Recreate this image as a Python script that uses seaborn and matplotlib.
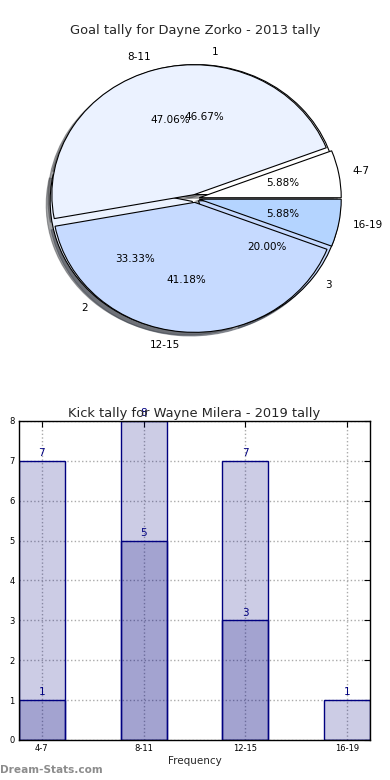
import matplotlib
matplotlib.use("Agg")
import matplotlib.pyplot as plt
import seaborn as sns
import pandas as pd

# pie data
pie_labels_a = ['4-7', '8-11', '12-15', '16-19']
pie_values_a = [1, 8, 7, 1]
pie_labels_b = ['1', '2', '3']
pie_values_b = [7, 5, 3]

# bar data
categories = ['4-7', '8-11', '12-15', '16-19']
kick_light = [7, 8, 7, 1]
kick_dark = [1, 5, 3, 0]

sns.set_theme(style="white")
plt.rcParams['font.family'] = ['DejaVu Sans']

pie_colors = ['#FFFFFF', '#EBF2FF', '#C6DAFF', '#B4D4FF']
navy = '#000080'

fig = plt.figure(figsize=(3.9, 7.8), dpi=100)

# --- Pie chart ---
ax1 = fig.add_axes([0.0449, 0.5449, 0.9103, 0.4013])
wedge_style = dict(edgecolor='black', linewidth=0.8)
ax1.pie(pie_values_b, labels=pie_labels_b, autopct='%1.2f%%', explode=[0.03] * 3,
        shadow=True, colors=pie_colors[:3], startangle=0, wedgeprops=wedge_style,
        textprops=dict(fontsize=7.5, color='black'))
ax1.pie(pie_values_a, labels=pie_labels_a, autopct='%1.2f%%', explode=[0.03] * 4,
        shadow=True, colors=pie_colors, startangle=0, wedgeprops=wedge_style,
        textprops=dict(fontsize=7.5, color='black'))
ax1.set_aspect('auto')
ax1.set_xlim(-1.25, 1.25)
ax1.set_ylim(-1.204, 1.204)
ax1.set_title('Goal tally for Dayne Zorko - 2013 tally', fontsize=9.4, pad=6)

# --- Bar chart ---
ax2 = fig.add_axes([0.0487, 0.0513, 0.9, 0.409])
df = pd.DataFrame({'Range': categories, 'Light': kick_light, 'Dark': kick_dark})
sns.barplot(data=df, x='Range', y='Light', width=0.45, saturation=1,
            color=navy, edgecolor=navy, linewidth=1, ax=ax2)
sns.barplot(data=df, x='Range', y='Dark', width=0.45, saturation=1,
            color=navy, edgecolor=navy, linewidth=1, ax=ax2)
for p in ax2.patches:
    p.set_facecolor((0, 0, 0.5, 0.2))
    p.set_edgecolor(navy)

ax2.bar_label(ax2.containers[0], labels=[str(v) for v in kick_light],
              padding=2, color=navy, fontsize=7.5)
ax2.bar_label(ax2.containers[1], labels=[str(v) if v else '' for v in kick_dark],
              padding=2, color=navy, fontsize=7.5)

ax2.set_xlim(-0.225, 3.225)
ax2.set_ylim(0, 8)
ax2.set_yticks(range(0, 9))
ax2.set_axisbelow(True)
ax2.grid(True, linestyle=':', color='#AAAAAA', linewidth=1)
ax2.tick_params(direction='in', length=4, width=0.8, top=True, right=True,
                labelsize=6, pad=3, colors='black')
for s in ax2.spines.values():
    s.set_color('black')
    s.set_linewidth(1)
ax2.set_xlabel('Frequency', fontsize=7.5, labelpad=2)
ax2.set_ylabel('')
ax2.set_title('Kick tally for Wayne Milera - 2019 tally', fontsize=9.4, pad=3)

fig.text(0.0, 1 - 770 / 780, 'Dream-Stats.com', fontsize=7.6, fontweight='bold',
         color='#8C8C8C', va='center', ha='left')

fig.savefig('out.png', dpi=100)
